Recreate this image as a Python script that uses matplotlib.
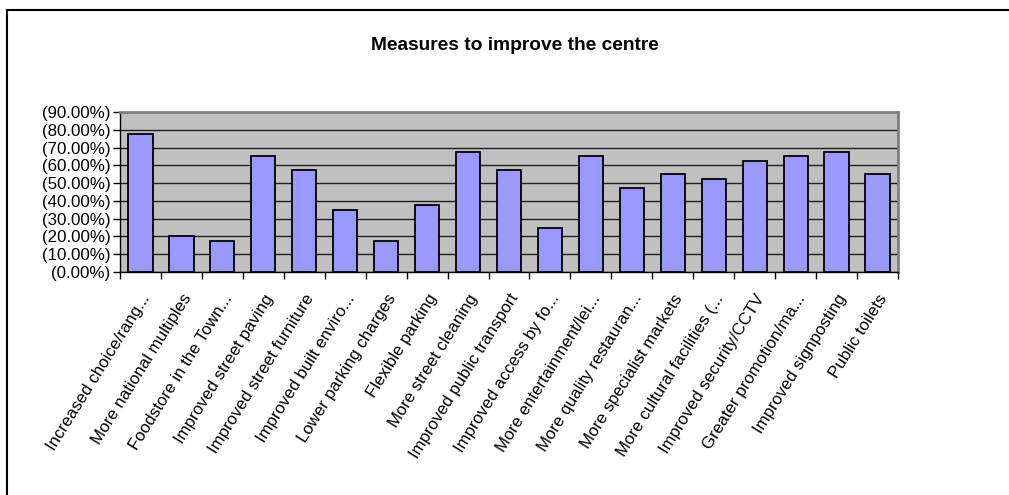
import matplotlib
matplotlib.use("Agg")
import matplotlib.pyplot as plt
from matplotlib.lines import Line2D
from matplotlib.ticker import FixedLocator, FixedFormatter

plt.rcParams['font.family'] = ['Liberation Sans', 'DejaVu Sans']

title = "Measures to improve the centre"
categories = [
    "Increased choice/rang...",
    "More national multiples",
    "Foodstore in the Town...",
    "Improved street paving",
    "Improved street furniture",
    "Improved built enviro...",
    "Lower parking charges",
    "Flexible parking",
    "More street cleaning",
    "Improved public transport",
    "Improved access by fo...",
    "More entertainment/lei...",
    "More quality restauran...",
    "More specialist markets",
    "More cultural facilities (...",
    "Improved security/CCTV",
    "Greater promotion/ma...",
    "Improved signposting",
    "Public toilets",
]
values = [77.5, 20.0, 17.5, 65.0, 57.5, 35.0, 17.5, 37.5, 67.5, 57.5,
          25.0, 65.0, 47.5, 55.0, 52.5, 62.5, 65.0, 67.5, 55.0]
y_ticks = [0, 10, 20, 30, 40, 50, 60, 70, 80, 90]
y_tick_labels = ["(0.00%)", "(10.00%)", "(20.00%)", "(30.00%)", "(40.00%)",
                 "(50.00%)", "(60.00%)", "(70.00%)", "(80.00%)", "(90.00%)"]

W, H = 1009, 495
fig = plt.figure(figsize=(W / 100, H / 100), dpi=100)
fig.patch.set_facecolor("white")

# outer chart frame (top and left edges visible)
fig.add_artist(Line2D([7 / W, 1.0], [1 - 10 / H, 1 - 10 / H], transform=fig.transFigure,
                      color="black", lw=1.5))
fig.add_artist(Line2D([7 / W, 7 / W], [1 - 10 / H, 0.0], transform=fig.transFigure,
                      color="black", lw=1.5))

left, right, top, bottom = 120, 898, 112, 272
ax = fig.add_axes([left / W, 1 - bottom / H, (right - left) / W, (bottom - top) / H])
ax.set_facecolor("#C0C0C0")

x = list(range(len(categories)))
ax.bar(x, values, width=0.59, color="#9999FF", edgecolor="black", linewidth=1.3, zorder=3)

ax.set_xlim(-0.5, len(categories) - 0.5)
ax.set_ylim(0, 90)

ax.yaxis.set_major_locator(FixedLocator(y_ticks))
ax.yaxis.set_major_formatter(FixedFormatter(y_tick_labels))
ax.tick_params(axis="y", direction="out", length=5, width=1, labelsize=12.2, pad=2)
ax.grid(axis="y", color="#202020", linewidth=1, zorder=1)
ax.set_axisbelow(True)

# category boundary ticks, labels centred under bars
ax.set_xticks([i - 0.5 for i in range(len(categories) + 1)])
ax.set_xticklabels([])
ax.tick_params(axis="x", which="major", direction="out", length=5, width=1)
ax.set_xticks(x, minor=True)
ax.set_xticklabels(categories, minor=True, rotation=58, ha="right", va="top",
                   rotation_mode="anchor", fontsize=12.2)
ax.tick_params(axis="x", which="minor", length=0, pad=14)

for side in ("left", "bottom"):
    ax.spines[side].set_color("black")
    ax.spines[side].set_linewidth(1)
for side in ("top", "right"):
    ax.spines[side].set_color("#808080")
    ax.spines[side].set_linewidth(2)

fig.text(515 / W, 1 - 45 / H, title, ha="center", va="center",
         fontsize=13.8, fontweight="bold")

fig.savefig("out.png", dpi=100)
